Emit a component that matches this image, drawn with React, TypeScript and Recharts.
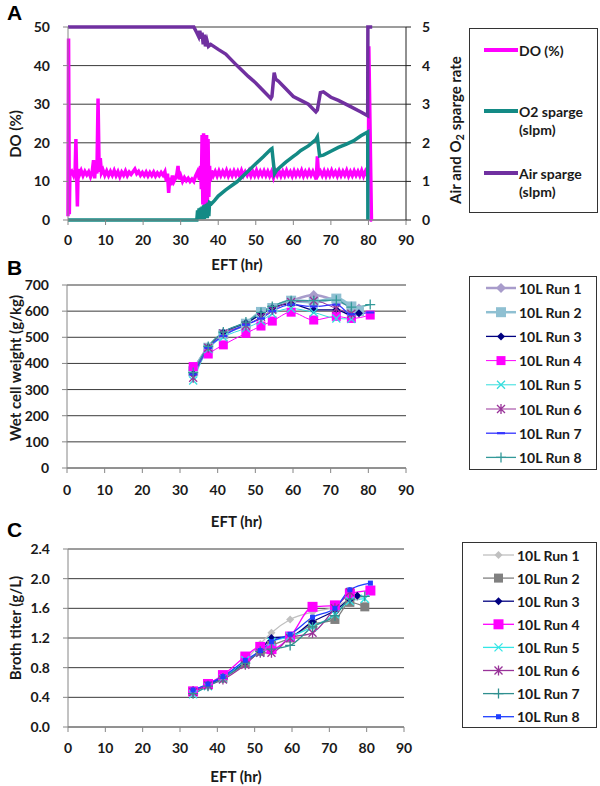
import React from 'react';
import { LineChart, Line, XAxis, YAxis, CartesianGrid, Label } from 'recharts';

const FONT = "Lato, 'Open Sans', sans-serif";

// ---------- Panel A data ----------
const eftTicks = [0, 10, 20, 30, 40, 50, 60, 70, 80, 90];
const doTicks = [0, 10, 20, 30, 40, 50];
const spargeTicks = [0, 1, 2, 3, 4, 5];

const doSeries: [number, number][] = [
  [0, 1], [0.15, 47], [0.35, 1.5], [0.5, 12], [1, 12.6], [1.5, 11.5], [1.9, 13], [2.1, 21], [2.3, 12], [2.5, 3.5],
  [2.7, 13.2], [3, 11.6], [3.5, 12.8], [4, 11.5], [4.5, 12.6], [5, 11.7], [5.5, 12.5], [6, 11.2], [6.4, 12.2],
  [6.8, 15.5], [7.1, 10.8], [7.4, 15], [7.7, 12], [8, 31.5], [8.3, 12.5], [8.6, 16], [8.9, 12.2], [9.3, 13],
  [9.8, 11.6], [10.3, 12.7], [10.8, 11.5], [11.3, 12.6], [11.8, 11.6], [12.3, 12.8], [12.8, 11.5], [13.3, 12.5],
  [13.8, 11.2], [14.3, 12.4], [14.8, 11.6], [15.3, 12.7], [15.8, 11.5], [16.3, 12.4], [16.8, 11.8], [17.3, 12.5],
  [17.8, 13.2], [18.3, 12], [18.8, 12.6], [19.3, 11.6], [19.8, 12.3], [20.3, 11.5], [20.8, 12.4], [21.3, 11.4],
  [21.8, 12.3], [22.3, 11.5], [22.8, 12.4], [23.3, 11.4], [23.8, 12.2], [24.3, 11.5], [24.8, 12.3], [25.3, 11.6],
  [25.8, 12.5], [26.2, 10], [26.5, 12], [26.8, 7], [27.1, 11], [27.4, 9], [27.8, 11.5], [28.2, 10], [28.6, 10.8],
  [29, 12], [29.3, 14], [29.6, 10.5], [30, 11.5], [30.5, 10], [31, 11], [31.5, 10.2], [32, 10.8], [32.5, 10],
  [33, 10.6], [33.5, 10], [34, 11.5], [34.5, 12.5], [35, 10.5], [35.3, 14], [35.5, 8], [35.7, 22], [35.9, 4],
  [36.1, 22.5], [36.3, 3], [36.5, 21], [36.7, 5], [36.9, 22], [37.1, 3], [37.3, 21], [37.5, 6], [37.7, 14],
  [37.9, 10], [38.2, 12.8], [38.7, 11.5], [39.2, 12.6], [39.7, 11.4], [40.2, 12.7], [40.7, 11.5], [41.2, 12.6],
  [41.7, 11.6], [42.2, 12.8], [42.7, 11.4], [43.2, 12.5], [43.7, 11.5], [44.2, 12.7], [44.7, 11.6], [45.2, 12.6],
  [45.7, 11.4], [46.2, 12.8], [46.7, 11.5], [47.2, 12.5], [47.7, 11.6], [48.2, 12.7], [48.7, 11.4], [49.2, 12.6],
  [49.7, 11.5], [50.2, 12.8], [50.7, 11.5], [51.2, 12.6], [51.7, 11.6], [52.2, 12.7], [52.7, 11.5], [53.2, 12.6],
  [53.7, 11.4], [54.2, 12.5], [54.7, 11], [55.2, 12.6], [55.7, 11.5], [56.2, 12.7], [56.7, 11.4], [57.2, 12.6],
  [57.7, 11.5], [58.2, 12.8], [58.7, 11.6], [59.2, 12.5], [59.7, 11.4], [60.2, 12.7], [60.7, 11.5], [61.2, 12.6],
  [61.7, 11.6], [62.2, 12.8], [62.7, 11.4], [63.2, 12.5], [63.7, 11.5], [64.2, 12.7], [64.7, 11.6], [65.2, 12.6],
  [65.7, 11.5], [66.1, 10.5], [66.4, 16.5], [66.7, 11.8], [67.2, 12.6], [67.7, 11.5], [68.2, 12.7], [68.7, 11.4],
  [69.2, 12.6], [69.7, 11.5], [70.2, 12.8], [70.7, 11.6], [71.2, 12.5], [71.7, 11.4], [72.2, 12.7], [72.7, 11.5],
  [73.2, 12.6], [73.7, 11.6], [74.2, 12.8], [74.7, 11.4], [75.2, 12.5], [75.7, 11.5], [76.2, 12.7], [76.7, 11.6],
  [77.2, 12.6], [77.7, 11.5], [78.2, 12.8], [78.7, 11.4], [79.2, 12.6], [79.7, 11.5], [80, 12], [80.1, 45],
  [80.8, 0], [81, 0],
];

const o2Series: [number, number][] = [
  [0, 0], [34.3, 0], [34.5, 0.25], [34.7, 0.03], [34.9, 0.3], [35.1, 0.02], [35.3, 0.32], [35.5, 0.03],
  [35.7, 0.35], [35.9, 0.02], [36.1, 0.38], [36.3, 0.03], [36.5, 0.4], [36.7, 0.05], [36.9, 0.42], [37.1, 0.05],
  [37.3, 0.45], [37.5, 0.1], [37.7, 0.45], [38.2, 0.42], [39, 0.5], [40, 0.62], [42, 0.78], [45, 0.99],
  [48, 1.27], [50, 1.46], [52, 1.64], [54, 1.83], [54.3, 1.85], [55, 1.2], [55.5, 1.28], [56, 1.33], [58, 1.5],
  [60, 1.65], [61, 1.72], [62, 1.8], [64, 1.92], [66, 2.08], [66.4, 2.15], [67, 1.66], [68, 1.68], [70, 1.78],
  [72, 1.88], [74, 1.96], [76, 2.05], [78, 2.18], [79.8, 2.28], [79.85, 0],
];

const airSeries: [number, number][] = [
  [0, 5], [33.5, 5], [34.3, 4.85], [34.8, 4.75], [35.1, 4.9], [35.4, 4.7], [35.7, 4.85], [36, 4.55],
  [36.3, 4.8], [36.6, 4.5], [37, 4.65], [37.4, 4.5], [38, 4.55], [40, 4.42], [42, 4.3], [45, 4.0], [48, 3.72],
  [50, 3.55], [52, 3.35], [54, 3.15], [54.3, 3.2], [54.9, 3.82], [55.3, 3.65], [56, 3.6], [58, 3.4], [60, 3.2],
  [62, 3.1], [64, 3.0], [66, 2.8], [66.4, 2.85], [67.2, 3.3], [68, 3.32], [70, 3.18], [72, 3.1], [75, 2.95],
  [78, 2.8], [79.8, 2.7], [79.85, 5], [81, 5],
];

// ---------- Panel B data ----------
const wcwTicks = [0, 100, 200, 300, 400, 500, 600, 700];
const wcwTimes = [33.5, 37.5, 41.5, 47.5, 51.5, 54.5, 59.5, 65.5, 71.5, 75.5, 77.5, 80.5];
const wcwRun1 = [375, 462, 515, 555, 590, 615, 640, 662, 640, 620, 610, null];
const wcwRun2 = [370, 460, 512, 552, 597, 612, 640, 635, 648, 618, 600, null];
const wcwRun3 = [360, 462, 518, 555, 588, 612, 628, 605, 605, 585, 592, null];
const wcwRun4 = [388, 436, 471, 515, 543, 562, 596, 566, 580, 572, null, 585];
const wcwRun5 = [335, 455, 500, 535, 562, 590, 610, 595, 572, 570, null, null];
const wcwRun6 = [345, 460, 515, 545, 578, 605, 635, 640, 610, 590, null, null];
const wcwRun7 = [358, 460, 505, 548, 572, 600, 625, 618, 625, 588, null, 595];
const wcwRun8 = [365, 465, 520, 558, 595, 618, 640, 640, 642, 615, null, 625];

// ---------- Panel C data ----------
const titerTicks = [0, 0.4, 0.8, 1.2, 1.6, 2.0, 2.4];
const titerTimes = [33.5, 37.5, 41.5, 47.5, 51.5, 54.5, 59.5, 65.5, 71.5, 75.5, 77.5, 79.5, 81];
const titerRun1 = [0.5, 0.58, 0.69, 0.9, 1.12, 1.27, 1.45, 1.55, 1.62, 1.72, 1.75, null, null];
const titerRun2 = [0.48, 0.57, 0.66, 0.86, 1.02, 1.1, 1.2, 1.38, 1.45, 1.68, null, 1.62, null];
const titerRun3 = [0.5, 0.57, 0.67, 0.87, 1.02, 1.2, 1.22, 1.42, 1.57, 1.72, 1.77, null, null];
const titerRun4 = [0.48, 0.58, 0.7, 0.95, 1.08, 1.05, 1.22, 1.62, 1.64, 1.8, null, null, 1.84];
const titerRun5 = [0.44, 0.55, 0.65, 0.9, 1.0, 1.15, 1.22, 1.35, 1.52, 1.7, null, 1.73, null];
const titerRun6 = [0.47, 0.56, 0.64, 0.84, 1.0, 1.0, 1.2, 1.27, 1.6, 1.82, null, null, null];
const titerRun7 = [0.45, 0.55, 0.66, 0.86, 1.02, 1.05, 1.1, 1.35, 1.5, 1.72, null, 1.76, null];
const titerRun8 = [0.5, 0.58, 0.68, 0.9, 1.03, 1.15, 1.25, 1.48, 1.6, 1.85, null, null, 1.94];

const runNames = ['10L Run 1', '10L Run 2', '10L Run 3', '10L Run 4', '10L Run 5', '10L Run 6', '10L Run 7', '10L Run 8'];

// ---------- styles ----------
type Shape = 'diamond' | 'square' | 'x' | 'star' | 'dash' | 'plus' | 'smallsquare';
type RunStyle = { color: string; shape: Shape; size: number; width: number };

const stylesB: RunStyle[] = [
  { color: '#a89ccb', shape: 'diamond', size: 5, width: 2.5 },
  { color: '#8fc0d2', shape: 'square', size: 5, width: 3.5 },
  { color: '#000080', shape: 'diamond', size: 4, width: 1.3 },
  { color: '#ff00ff', shape: 'square', size: 4.5, width: 1 },
  { color: '#33dddd', shape: 'x', size: 4, width: 1 },
  { color: '#993399', shape: 'star', size: 4, width: 1 },
  { color: '#3333ff', shape: 'dash', size: 4, width: 1.3 },
  { color: '#339999', shape: 'plus', size: 5, width: 1.3 },
];
const stylesC: RunStyle[] = [
  { color: '#c0c0c0', shape: 'diamond', size: 4, width: 1.3 },
  { color: '#808080', shape: 'square', size: 4.5, width: 1.3 },
  { color: '#000080', shape: 'diamond', size: 4, width: 1.3 },
  { color: '#ff00ff', shape: 'square', size: 5, width: 1.3 },
  { color: '#33e6e6', shape: 'x', size: 4, width: 1.3 },
  { color: '#993399', shape: 'star', size: 4, width: 1.3 },
  { color: '#2f8f8f', shape: 'plus', size: 5, width: 1.3 },
  { color: '#1f3fff', shape: 'smallsquare', size: 2.5, width: 1.3 },
];

const COL_DO = '#ff00ff';
const COL_O2 = '#138a85';
const COL_AIR = '#7030a0';

const tickStyle = { fontFamily: FONT, fontSize: 14, fontWeight: 700, fill: '#1a1a1a' };
const titleStyle: React.CSSProperties = { fontFamily: FONT, fontSize: 15, fontWeight: 700, fill: '#1a1a1a' };
const axisStroke = '#868686';
const gridStroke = '#3a3a3a';

const toPts = (arr: [number, number][]) => arr.map(([t, v]) => ({ t, v }));
const buildTable = (times: number[], runs: (number | null)[][]) =>
  times.map((t, i) => {
    const row: Record<string, number | null> = { t };
    runs.forEach((r, k) => { row['r' + (k + 1)] = r[i]; });
    return row;
  });

const tableB = buildTable(wcwTimes, [wcwRun1, wcwRun2, wcwRun3, wcwRun4, wcwRun5, wcwRun6, wcwRun7, wcwRun8]);
const tableC = buildTable(titerTimes, [titerRun1, titerRun2, titerRun3, titerRun4, titerRun5, titerRun6, titerRun7, titerRun8]);

function MarkerShape({ shape, x, y, color, s }: { shape: Shape; x: number; y: number; color: string; s: number }) {
  switch (shape) {
    case 'diamond':
      return <polygon points={`${x},${y - s} ${x + s},${y} ${x},${y + s} ${x - s},${y}`} fill={color} />;
    case 'square':
    case 'smallsquare':
      return <rect x={x - s} y={y - s} width={2 * s} height={2 * s} fill={color} />;
    case 'x':
      return <path d={`M${x - s},${y - s}L${x + s},${y + s}M${x - s},${y + s}L${x + s},${y - s}`} stroke={color} strokeWidth={1.3} />;
    case 'star':
      return <path d={`M${x - s},${y - s}L${x + s},${y + s}M${x - s},${y + s}L${x + s},${y - s}M${x},${y - s - 1}L${x},${y + s + 1}`} stroke={color} strokeWidth={1.3} />;
    case 'dash':
      return <path d={`M${x - s},${y}L${x + s},${y}`} stroke={color} strokeWidth={2.2} />;
    case 'plus':
      return <path d={`M${x - s},${y}L${x + s},${y}M${x},${y - s}L${x},${y + s}`} stroke={color} strokeWidth={1.3} />;
    default:
      return null;
  }
}

const makeDot = (st: RunStyle) => (p: any) => {
  const { cx, cy, index, value } = p;
  if (cx == null || cy == null || value == null || Number.isNaN(cy)) return <g key={'d' + index} />;
  return (
    <g key={'d' + index}>
      <MarkerShape shape={st.shape} x={cx} y={cy} color={st.color} s={st.size} />
    </g>
  );
};

const vTitle = (x: number, cy: number, content: React.ReactNode) => () => (
  <text x={x} y={cy} transform={`rotate(-90, ${x}, ${cy})`} textAnchor="middle" dominantBaseline="central" style={titleStyle}>
    {content}
  </text>
);

const hTitle = (cx: number, y: number, content: string) => () => (
  <text x={cx} y={y} textAnchor="middle" style={titleStyle}>{content}</text>
);

function PanelA() {
  return (
    <LineChart width={600} height={275} margin={{ top: 27, right: 130, left: 0, bottom: 0 }}>
      <CartesianGrid horizontal vertical={false} stroke={gridStroke} yAxisId="do" />
      <XAxis dataKey="t" type="number" domain={[0, 90]} ticks={eftTicks} interval={0} height={55}
        stroke={axisStroke} tickSize={5} tickMargin={10} tick={tickStyle} allowDuplicatedCategory={false}>
        <Label content={hTitle(237, 270, 'EFT (hr)')} />
      </XAxis>
      <YAxis yAxisId="do" domain={[0, 50]} ticks={doTicks} interval={0} width={68} stroke={axisStroke}
        tickSize={5} tickMargin={13} tick={tickStyle}>
        <Label content={vTitle(15, 134, 'DO (%)')} />
      </YAxis>
      <YAxis yAxisId="sp" orientation="right" domain={[0, 5]} ticks={spargeTicks} interval={0} width={64}
        stroke="#222" tickSize={5} tickMargin={11} tick={{ ...tickStyle, textAnchor: 'start' }}>
        <Label content={vTitle(455, 130, (
          <>
            <tspan>Air and O</tspan>
            <tspan dy={4} fontSize={11}>2</tspan>
            <tspan dy={-4}> sparge rate</tspan>
          </>
        ))} />
      </YAxis>
      <Line yAxisId="do" data={toPts(doSeries)} dataKey="v" stroke={COL_DO} strokeWidth={3.5} dot={false}
        isAnimationActive={false} type="linear" />
      <Line yAxisId="sp" data={toPts(o2Series)} dataKey="v" stroke={COL_O2} strokeWidth={3.5} dot={false}
        isAnimationActive={false} type="linear" />
      <Line yAxisId="sp" data={toPts(airSeries)} dataKey="v" stroke={COL_AIR} strokeWidth={3.5} dot={false}
        isAnimationActive={false} type="linear" />
    </LineChart>
  );
}

function RunPanel({ table, styles, ticks, domain, height, top, yWidth, right, xHeight, tickMarginX,
  yTitle, yTitleCy, xTitleY, fmt }: any) {
  return (
    <LineChart width={600} height={height} data={table} margin={{ top, right, left: 0, bottom: 0 }}>
      <CartesianGrid horizontal vertical={false} stroke={gridStroke} />
      <XAxis dataKey="t" type="number" domain={[0, 90]} ticks={eftTicks} interval={0} height={xHeight}
        stroke={axisStroke} tickSize={5} tickMargin={tickMarginX} tick={tickStyle}>
        <Label content={hTitle(yWidth + (600 - right - yWidth) / 2, xTitleY, 'EFT (hr)')} />
      </XAxis>
      <YAxis domain={domain} ticks={ticks} interval={0} width={yWidth} stroke={axisStroke} tickSize={5}
        tickMargin={13} tick={tickStyle} tickFormatter={fmt}>
        <Label content={vTitle(15, yTitleCy, yTitle)} />
      </YAxis>
      {styles.map((st: RunStyle, k: number) => (
        <Line key={k} dataKey={'r' + (k + 1)} name={runNames[k]} stroke={st.color} strokeWidth={st.width}
          type="monotone" connectNulls dot={makeDot(st)} activeDot={false} isAnimationActive={false} />
      ))}
    </LineChart>
  );
}

function LegendSample({ x, y, st, len }: { x: number; y: number; st: RunStyle; len: number }) {
  return (
    <g>
      <line x1={x} x2={x + len} y1={y} y2={y} stroke={st.color} strokeWidth={Math.min(st.width, 2.5)} />
      <MarkerShape shape={st.shape} x={x + len / 2} y={y} color={st.color} s={st.size} />
    </g>
  );
}

const legendText: React.CSSProperties = { fontFamily: FONT, fontSize: 14, fontWeight: 700, fill: '#1a1a1a' };

function LegendA() {
  const items = [
    { color: COL_DO, lines: ['DO (%)'], y: 22 },
    { color: COL_O2, lines: ['O2 sparge', '(slpm)'], y: 83 },
    { color: COL_AIR, lines: ['Air sparge', '(slpm)'], y: 145 },
  ];
  return (
    <svg width={130} height={186} style={{ position: 'absolute', left: 469, top: 28 }}>
      <rect x={0.5} y={0.5} width={128} height={184} fill="#fff" stroke="#333" />
      {items.map((it, i) => (
        <g key={i}>
          <line x1={15} x2={49} y1={it.y} y2={it.y} stroke={it.color} strokeWidth={4} />
          {it.lines.map((ln, j) => (
            <text key={j} x={50} y={it.y + j * 18} dominantBaseline="central" style={legendText}>{ln}</text>
          ))}
        </g>
      ))}
    </svg>
  );
}

function LegendRuns({ left, top, width, height, styles, y0, dy, sx, len, tx }: any) {
  return (
    <svg width={width + 1} height={height + 1} style={{ position: 'absolute', left, top }}>
      <rect x={0.5} y={0.5} width={width - 1} height={height - 1} fill="#fff" stroke="#333" />
      {styles.map((st: RunStyle, i: number) => (
        <g key={i}>
          <LegendSample x={sx} y={y0 + i * dy} st={st} len={len} />
          <text x={tx} y={y0 + i * dy} dominantBaseline="central" style={legendText}>{runNames[i]}</text>
        </g>
      ))}
    </svg>
  );
}

export default function App() {
  return (
    <div style={{ position: 'absolute', left: 0, top: 0, width: 600, height: 786, background: '#fff', overflow: 'hidden' }}>
      <div style={{ position: 'absolute', left: 0, top: 0 }}>
        <PanelA />
      </div>
      <div style={{ position: 'absolute', left: 0, top: 250 }}>
        <RunPanel table={tableB} styles={stylesB} ticks={wcwTicks} domain={[0, 700]} height={290} top={35}
          yWidth={67} right={194} xHeight={72} tickMarginX={12} yTitle="Wet cell weight (g/kg)" yTitleCy={118}
          xTitleY={277} />
      </div>
      <div style={{ position: 'absolute', left: 0, top: 510 }}>
        <RunPanel table={tableC} styles={stylesC} ticks={titerTicks} domain={[0, 2.4]} height={276} top={39}
          yWidth={68} right={196} xHeight={59} tickMarginX={11} yTitle="Broth titer (g/L)" yTitleCy={118}
          xTitleY={272} fmt={(v: number) => v.toFixed(1)} />
      </div>
      <LegendA />
      <LegendRuns left={469} top={276} width={128} height={194} styles={stylesB} y0={12} dy={24.2} sx={17} len={30} tx={50} />
      <LegendRuns left={462} top={542} width={135} height={186} styles={stylesC} y0={13} dy={23.1} sx={21} len={31} tx={55} />
      <svg width={600} height={786} style={{ position: 'absolute', left: 0, top: 0, pointerEvents: 'none' }}>
        <text x={7} y={20} style={{ fontFamily: 'Arial, Liberation Sans, sans-serif', fontSize: 21, fontWeight: 700 }}>A</text>
        <text x={7} y={275} style={{ fontFamily: 'Arial, Liberation Sans, sans-serif', fontSize: 21, fontWeight: 700 }}>B</text>
        <text x={7} y={537} style={{ fontFamily: 'Arial, Liberation Sans, sans-serif', fontSize: 21, fontWeight: 700 }}>C</text>
      </svg>
    </div>
  );
}
